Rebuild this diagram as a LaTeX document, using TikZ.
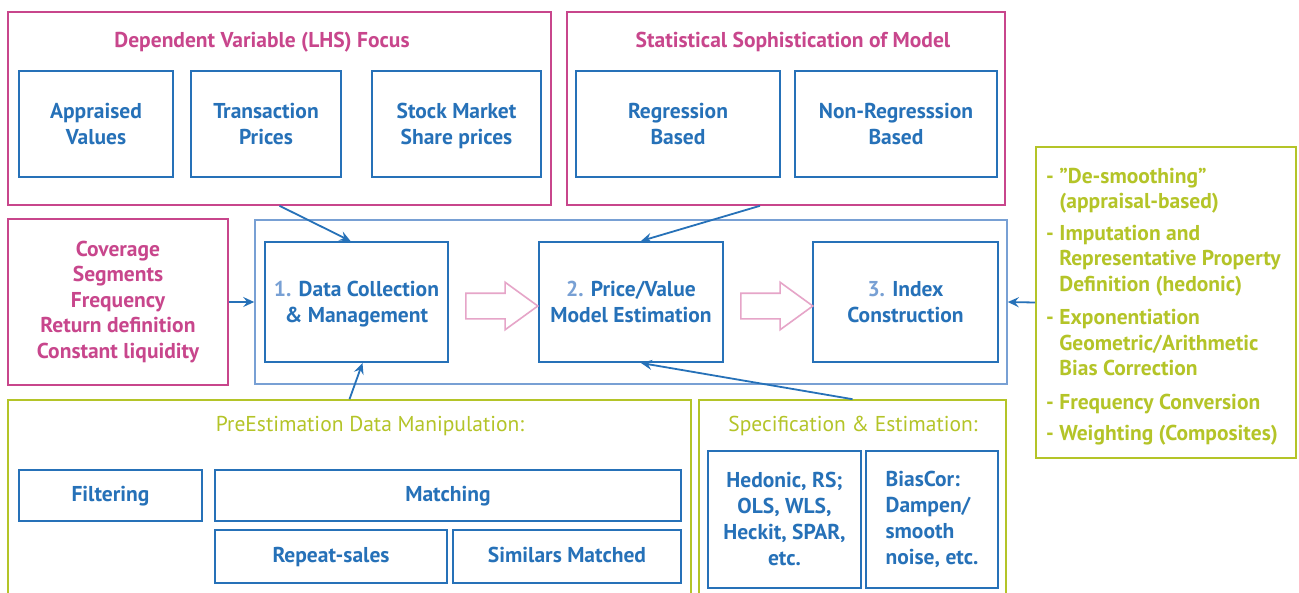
\documentclass[tikz,border=0pt]{standalone}
\usepackage{fontspec}
\setmainfont{PT Sans}
\usetikzlibrary{arrows.meta,shapes.arrows}
\definecolor{pinkc}{RGB}{200,70,140}
\definecolor{pinklt}{RGB}{230,165,200}
\definecolor{bluec}{RGB}{38,113,184}
\definecolor{bluelt}{RGB}{120,160,212}
\definecolor{greenc}{RGB}{180,196,40}
\newcommand{\stepno}[1]{\textcolor{bluelt}{#1}}
\newcommand{\boxstrut}{\rule[-1pt]{0pt}{25pt}}
\newcommand{\nodp}[1]{\raisebox{0pt}[\height][0pt]{#1}}
\tikzset{
  txt/.style={font=\fontsize{21.5}{25.5}\selectfont},
  boldtxt/.style={font=\bfseries\fontsize{21.5}{25.5}\selectfont},
  pinkframe/.style={draw=pinkc,line width=1.6pt,inner sep=0pt},
  greenframe/.style={draw=greenc,line width=1.6pt,inner sep=0pt},
  bluebox/.style={draw=bluec,line width=2pt,inner sep=0pt,align=center,text=bluec,
    font=\bfseries\fontsize{21.5}{26}\selectfont,
    execute at begin node=\boxstrut,execute at end node=\boxstrut},
  tallbox/.style={bluebox,execute at begin node=\rule[-1pt]{0pt}{31pt}},
  linebox/.style={bluebox,execute at begin node={},execute at end node={},text height=16pt,text depth=4pt},
  hollow/.style={single arrow,draw=pinklt,line width=1.6pt,fill=white,minimum height=72,minimum width=46,
    single arrow head extend=11pt,single arrow tip angle=72,inner xsep=0pt,inner ysep=12pt},
  link/.style={draw=bluec,line width=1.8pt,-{Stealth[length=11pt,width=10pt,inset=4pt]}}
}
\begin{document}
\begin{tikzpicture}[x=1pt,y=-1pt]
\useasboundingbox (0,0) rectangle (1299,592);
\clip (0,0) rectangle (1299,592);
\fill[white] (0,0) rectangle (1299,592);

% dependent variable
\node[pinkframe,minimum width=543,minimum height=193] (dvf) at (279.5,108.5) {};
\node[boldtxt,text=pinkc] (dvft) at (262,42) {Dependent Variable (LHS) Focus};
\node[bluebox,minimum width=154,minimum height=106] (apv) at (96,124) {Appraised\\Values};
\node[bluebox,minimum width=150,minimum height=106] (trp) at (266,124) {Transaction\\Prices};
\node[bluebox,minimum width=169,minimum height=106] (skp) at (456.5,124) {Stock Market\\\nodp{Share prices}};

% statistical sophistication
\node[pinkframe,minimum width=438,minimum height=193] (ssm) at (786,108.5) {};
\node[boldtxt,text=pinkc] (ssmt) at (793,42) {Statistical Sophistication of Model};
\node[bluebox,minimum width=204,minimum height=106] (reg) at (678,124) {Regression\\Based};
\node[bluebox,minimum width=202,minimum height=106] (nrg) at (896,124) {Non-Regresssion\\Based};

% coverage
\node[pinkframe,minimum width=220,minimum height=166,align=center,text=pinkc,boldtxt] (cov) at (118,302)
  {Coverage\\Segments\\Frequency\\Return definition\\Constant liquidity};

% main pipeline
\node[draw=bluelt,line width=1.6pt,inner sep=0pt,minimum width=752,minimum height=164] (pipe) at (631,302) {};
\node[tallbox,minimum width=183,minimum height=120] (dc) at (356.5,302) {\stepno{1.} Data Collection\\\nodp{\&~Management}};
\node[tallbox,minimum width=184,minimum height=120] (pv) at (631,302) {\stepno{2.} Price/Value\\Model Estimation};
\node[tallbox,minimum width=185,minimum height=120] (ic) at (905.5,302) {\stepno{3.} Index\\Construction};
\node[hollow] (ha1) at (493,306) {};
\node[hollow] (ha2) at (768,306) {};

% index adjustments
\node[greenframe,minimum width=260,minimum height=311] (adj) at (1166,302.5) {};
\node[anchor=north west,align=left,text=greenc,inner sep=0pt,boldtxt] (adjt) at (1046,168)
  {- "De-smoothing"\\\hphantom{- }(appraisal-based)\\[6pt]
   - Imputation and\\\hphantom{- }Representative Property\\\hphantom{- }Definition (hedonic)\\[8pt]
   - Exponentiation\\\hphantom{- }Geometric/Arithmetic\\\hphantom{- }Bias Correction\\[8pt]
   - Frequency Conversion\\[6pt]
   - Weighting (Composites)};

% pre-estimation
\node[greenframe,minimum width=683,minimum height=240] (pre) at (349.5,520) {};
\node[txt,text=greenc] (pret) at (370,426) {PreEstimation Data Manipulation:};
\node[linebox,minimum width=183,minimum height=51] (flt) at (110.5,495.5) {Filtering};
\node[linebox,minimum width=466,minimum height=51] (mtc) at (448,495.5) {Matching};
\node[linebox,minimum width=232,minimum height=53] (rps) at (331,556.5) {Repeat-sales};
\node[linebox,minimum width=228,minimum height=53] (sim) at (567,556.5) {Similars Matched};

% specification
\node[greenframe,minimum width=307,minimum height=240] (spe) at (852.5,520) {};
\node[txt,text=greenc] (spet) at (853,426) {Specification \& Estimation:};
\node[tallbox,minimum width=153,minimum height=137] (hed) at (784.5,519.5) {Hedonic, RS;\\OLS, WLS,\\Heckit, SPAR,\\etc.};
\node[tallbox,minimum width=132,minimum height=137,align=left] (bsc) at (932,519.5) {BiasCor:\\Dampen/\\smooth\\noise, etc.};

% connectors
\draw[link] (dvf.south) -- ([xshift=-6]dc.north);
\draw[link] ([xshift=-26]ssm.south) -- ([xshift=10]pv.north);
\draw[link] (cov.east) -- (pipe.west);
\draw[link] (adj.west) -- (pipe.east);
\draw[link] (pre.north) -- ([xshift=6]dc.south);
\draw[link] (spe.north) -- ([xshift=10]pv.south);
\end{tikzpicture}
\end{document}
